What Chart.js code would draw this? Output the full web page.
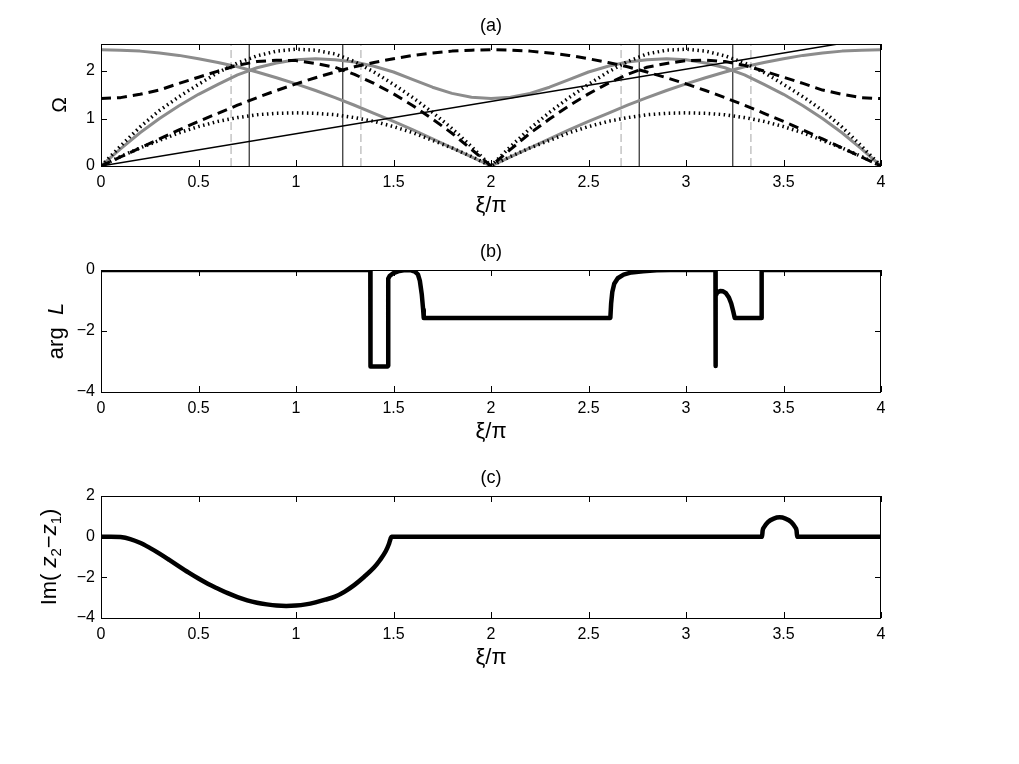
<!DOCTYPE html>
<html>
<head>
<meta charset="utf-8">
<title>Ω, arg L, Im(z2-z1) vs ξ/π</title>
<script src="https://cdn.jsdelivr.net/npm/chart.js@4.4.1/dist/chart.umd.min.js"></script>
<style>
html, body { margin: 0; padding: 0; background: #fff; }
#wrap { position: relative; width: 1019px; height: 764px; overflow: hidden; background: #fff; }
#wrap canvas { position: absolute; left: 0; }
</style>
</head>
<body>
<div id="wrap">
  <canvas id="chartA" width="1019" height="226" style="top:0px"></canvas>
  <canvas id="chartB" width="1019" height="226" style="top:226px"></canvas>
  <canvas id="chartC" width="1019" height="226" style="top:452px"></canvas>
</div>
<script>
// ---- panel (a): dispersion branches, sampled on xi/pi = 0 .. 4 step 0.1 ----
var xiGrid = [0, 0.1, 0.2, 0.3, 0.4, 0.5, 0.6, 0.7, 0.8, 0.9, 1.0, 1.1, 1.2, 1.3, 1.4, 1.5, 1.6, 1.7, 1.8, 1.9, 2.0,
    2.1, 2.2, 2.3, 2.4, 2.5, 2.6, 2.7, 2.8, 2.9, 3.0, 3.1, 3.2, 3.3, 3.4, 3.5, 3.6, 3.7, 3.8, 3.9, 4.0];
var grayA = [2.45, 2.44, 2.42, 2.38, 2.33, 2.26, 2.18, 2.09, 1.98, 1.86, 1.73, 1.59, 1.44, 1.28, 1.11, 0.94, 0.76, 0.57, 0.38, 0.19, 0,
    0.19, 0.38, 0.57, 0.76, 0.94, 1.11, 1.28, 1.44, 1.59, 1.73, 1.86, 1.98, 2.09, 2.18, 2.26, 2.33, 2.38, 2.42, 2.44, 2.45];
var grayB = [0, 0.36, 0.70, 1.00, 1.27, 1.51, 1.72, 1.92, 2.07, 2.17, 2.24, 2.26, 2.24, 2.19, 2.10, 1.98, 1.82, 1.66, 1.53, 1.45, 1.42,
    1.45, 1.53, 1.66, 1.82, 1.98, 2.10, 2.19, 2.24, 2.26, 2.24, 2.17, 2.07, 1.92, 1.72, 1.51, 1.27, 1.00, 0.70, 0.36, 0];
var dashC = [1.42, 1.44, 1.51, 1.60, 1.74, 1.87, 2.00, 2.12, 2.20, 2.23, 2.22, 2.16, 2.08, 1.93, 1.74, 1.52, 1.27, 0.99, 0.69, 0.35, 0,
    0.35, 0.69, 0.99, 1.27, 1.52, 1.74, 1.93, 2.08, 2.16, 2.22, 2.23, 2.20, 2.12, 2.00, 1.87, 1.74, 1.60, 1.51, 1.44, 1.42];
var dashD = [0, 0.19, 0.38, 0.57, 0.76, 0.94, 1.11, 1.28, 1.44, 1.59, 1.73, 1.86, 1.98, 2.09, 2.18, 2.26, 2.33, 2.38, 2.42, 2.44, 2.45,
    2.44, 2.42, 2.38, 2.33, 2.26, 2.18, 2.09, 1.98, 1.86, 1.73, 1.59, 1.44, 1.28, 1.11, 0.94, 0.76, 0.57, 0.38, 0.19, 0];
var dotE = [0, 0.42, 0.82, 1.17, 1.46, 1.72, 1.97, 2.17, 2.32, 2.42, 2.46, 2.44, 2.36, 2.20, 1.98, 1.72, 1.44, 1.13, 0.79, 0.41, 0,
    0.41, 0.79, 1.13, 1.44, 1.72, 1.98, 2.20, 2.36, 2.44, 2.46, 2.42, 2.32, 2.17, 1.97, 1.72, 1.46, 1.17, 0.82, 0.42, 0];
var dotF = [0, 0.20, 0.38, 0.54, 0.70, 0.83, 0.94, 1.02, 1.08, 1.11, 1.12, 1.11, 1.08, 1.02, 0.94, 0.83, 0.70, 0.54, 0.38, 0.20, 0,
    0.20, 0.38, 0.54, 0.70, 0.83, 0.94, 1.02, 1.08, 1.11, 1.12, 1.11, 1.08, 1.02, 0.94, 0.83, 0.70, 0.54, 0.38, 0.20, 0];
var lineX = [0, 4];
var lineY = [0, 2.72];
var vSolidX = [0.76, 1.24, 2.76, 3.24];
var vDashedX = [0.667, 1.333, 2.667, 3.333];

// ---- panel (b): arg L ----
var argX = [0, 1.381, 1.381, 1.383, 1.47, 1.473, 1.473, 1.48, 1.50, 1.53, 1.56, 1.59, 1.61, 1.625, 1.635, 1.645, 1.652, 1.655,
    2.612, 2.616, 2.622, 2.632, 2.65, 2.68, 2.72, 2.78, 2.85, 2.92, 3.151, 3.151, 3.153, 3.16, 3.175, 3.19, 3.205, 3.22,
    3.232, 3.242, 3.25, 3.388, 3.388, 4];
var argY = [0, 0, -3.14, -3.16, -3.16, -3.14, -0.28, -0.2, -0.1, -0.03, 0, -0.01, -0.05, -0.14, -0.35, -0.8, -1.3, -1.57,
    -1.57, -1.1, -0.72, -0.45, -0.27, -0.15, -0.08, -0.04, -0.01, 0, 0, -3.15, -0.85, -0.74, -0.69, -0.7, -0.76, -0.9,
    -1.1, -1.35, -1.57, -1.57, 0, 0];

// ---- panel (c): Im(z2 - z1) ----
var imX = [0, 0.05, 0.1, 0.15, 0.2, 0.25, 0.3, 0.35, 0.4, 0.45, 0.5, 0.55, 0.6, 0.65, 0.7, 0.75, 0.8, 0.85, 0.9, 0.95,
    1.0, 1.05, 1.1, 1.15, 1.2, 1.25, 1.3, 1.35, 1.4, 1.43, 1.46, 1.475, 1.485, 1.49,
    3.39, 3.393, 3.40, 3.42, 3.45, 3.48, 3.51, 3.54, 3.56, 3.567, 3.57, 4];
var imY = [0, 0, -0.02, -0.12, -0.3, -0.55, -0.83, -1.14, -1.46, -1.77, -2.06, -2.33, -2.56, -2.78, -2.97, -3.13, -3.25, -3.33, -3.39, -3.41,
    -3.39, -3.33, -3.23, -3.1, -2.95, -2.7, -2.37, -1.97, -1.52, -1.16, -0.72, -0.4, -0.1, 0,
    0, 0.3, 0.46, 0.72, 0.89, 0.95, 0.89, 0.72, 0.46, 0.3, 0, 0];

var xTicks = [0, 0.5, 1, 1.5, 2, 2.5, 3, 3.5, 4];

var FONT = '"Liberation Sans", Arial, Helvetica, sans-serif';
var GRAY = "#8c8c8c";

function pts(xs, ys) {
    return xs.map(function (x, i) { return { x: x, y: ys[i] }; });
}

function fmt(v) {
    var r = Math.round(v * 100) / 100;
    return r < 0 ? "\u2212" + (-r) : String(r);
}

// box, inward ticks (all four sides), panel title and axis labels
var frameAndLabels = {
    id: "frameAndLabels",
    afterDatasetsDraw: function (chart, args, opts) {
        var ctx = chart.ctx, a = chart.chartArea;
        var xs = chart.scales.x, ys = chart.scales.y;
        var tl = 6;
        ctx.save();
        ctx.strokeStyle = "#000";
        ctx.lineWidth = 1;
        ctx.beginPath();
        xs.ticks.forEach(function (t) {
            var px = Math.round(xs.getPixelForValue(t.value)) + 0.5;
            ctx.moveTo(px, a.bottom); ctx.lineTo(px, a.bottom - tl);
            ctx.moveTo(px, a.top); ctx.lineTo(px, a.top + tl);
        });
        ys.ticks.forEach(function (t) {
            var py = Math.round(ys.getPixelForValue(t.value)) + 0.5;
            ctx.moveTo(a.left, py); ctx.lineTo(a.left + tl, py);
            ctx.moveTo(a.right, py); ctx.lineTo(a.right - tl, py);
        });
        ctx.stroke();
        ctx.strokeRect(a.left + 0.5, a.top + 0.5, a.right - a.left - 1, a.bottom - a.top);

        var cx = (a.left + a.right) / 2;
        ctx.fillStyle = "#000";
        ctx.textAlign = "center";
        ctx.textBaseline = "middle";
        ctx.font = "18px " + FONT;
        ctx.fillText(opts.title, cx, a.top - 18);
        ctx.font = "22px " + FONT;
        ctx.fillText("\u03BE/\u03C0", cx, a.bottom + 40);

        // rotated y label made of plain / italic / subscript pieces
        var size = opts.ySize || 21;
        function setFont(p) {
            ctx.font = (p.it ? "italic " : "") + Math.round(p.sub ? size * 0.7 : size) + "px " + FONT;
        }
        var w = 0;
        opts.yParts.forEach(function (p) { setFont(p); w += ctx.measureText(p.t).width; });
        ctx.translate(opts.yX, (a.top + a.bottom) / 2);
        ctx.rotate(-Math.PI / 2);
        ctx.textAlign = "left";
        var x = -w / 2;
        opts.yParts.forEach(function (p) {
            setFont(p);
            ctx.fillText(p.t, x, p.sub ? size * 0.3 : 0);
            x += ctx.measureText(p.t).width;
        });
        ctx.restore();
    }
};

function scales(yMin, yMax, yStep) {
    var tickFont = { family: FONT, size: 16 };
    return {
        x: {
            type: "linear", min: 0, max: 4,
            afterFit: function (s) { s.height = 60; },
            afterBuildTicks: function (s) { s.ticks = xTicks.map(function (v) { return { value: v }; }); },
            ticks: { padding: 7, color: "#000", font: tickFont, maxRotation: 0, autoSkip: false, callback: fmt },
            grid: { display: false, drawTicks: false }, border: { display: false }
        },
        y: {
            type: "linear", min: yMin, max: yMax,
            afterFit: function (s) { s.width = 101; },
            ticks: { stepSize: yStep, includeBounds: false, padding: 6, color: "#000", font: tickFont, callback: fmt },
            grid: { display: false, drawTicks: false }, border: { display: false }
        }
    };
}

function makeChart(id, datasets, sc, labelOpts) {
    return new Chart(document.getElementById(id), {
        type: "line",
        data: { datasets: datasets },
        options: {
            responsive: false,
            animation: false,
            devicePixelRatio: 1,
            layout: { padding: { top: 44, left: 0, right: 138, bottom: 0 } },
            elements: { point: { radius: 0 }, line: { tension: 0, borderJoinStyle: "round" } },
            scales: sc,
            plugins: { legend: { display: false }, tooltip: { enabled: false }, frameAndLabels: labelOpts }
        },
        plugins: [frameAndLabels]
    });
}

function init() {
    var yTop = 2.57;
    var dsA = [];
    vSolidX.forEach(function (v) {
        dsA.push({ data: [{ x: v, y: 0 }, { x: v, y: yTop }], borderColor: "#000", borderWidth: 1, order: 6 });
    });
    vDashedX.forEach(function (v) {
        dsA.push({ data: [{ x: v, y: 0 }, { x: v, y: yTop }], borderColor: "#a6a6a6", borderWidth: 1, borderDash: [8, 4], order: 6 });
    });
    dsA.push({ data: pts(xiGrid, grayA), borderColor: GRAY, borderWidth: 3, order: 4 });
    dsA.push({ data: pts(xiGrid, grayB), borderColor: GRAY, borderWidth: 3, order: 4 });
    dsA.push({ data: pts(lineX, lineY), borderColor: "#000", borderWidth: 1.5, order: 3 });
    dsA.push({ data: pts(xiGrid, dotE), borderColor: "#000", borderWidth: 3.5, borderDash: [1.5, 3.5], order: 2 });
    dsA.push({ data: pts(xiGrid, dotF), borderColor: "#000", borderWidth: 3.5, borderDash: [1.5, 3.5], order: 2 });
    dsA.push({ data: pts(xiGrid, dashC), borderColor: "#000", borderWidth: 3, borderDash: [10, 6], order: 1 });
    dsA.push({ data: pts(xiGrid, dashD), borderColor: "#000", borderWidth: 3, borderDash: [10, 6], order: 1 });

    makeChart("chartA", dsA, scales(0, yTop, 1), {
        title: "(a)", yX: 60, yParts: [{ t: "\u03A9" }], ySize: 21
    });

    makeChart("chartB", [
        { data: pts(argX, argY), borderColor: "#000", borderWidth: 4.5, borderCapStyle: "round" }
    ], scales(-4, 0, 2), {
        title: "(b)", yX: 57, yParts: [{ t: "arg  " }, { t: "L", it: true }], ySize: 22
    });

    makeChart("chartC", [
        { data: pts(imX, imY), borderColor: "#000", borderWidth: 4.5, borderCapStyle: "round", cubicInterpolationMode: "monotone" }
    ], scales(-4, 2, 2), {
        title: "(c)", yX: 50, ySize: 22,
        yParts: [{ t: "Im( " }, { t: "z", it: true }, { t: "2", sub: true }, { t: "\u2212" },
                 { t: "z", it: true }, { t: "1", sub: true }, { t: ")" }]
    });
}

if (document.readyState === "loading") {
    document.addEventListener("DOMContentLoaded", init);
} else {
    init();
}
</script>
</body>
</html>
